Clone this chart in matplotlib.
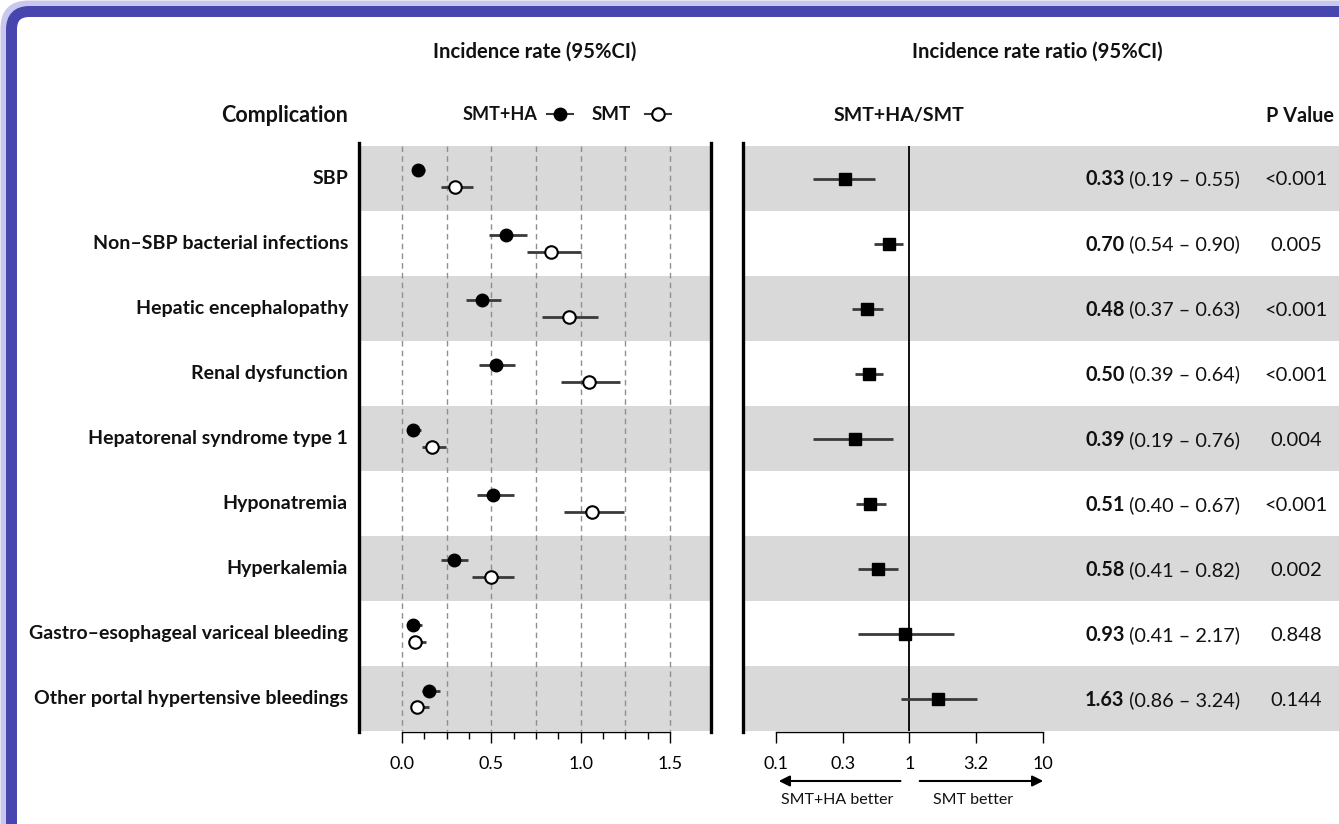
import numpy as np
import matplotlib
matplotlib.use('Agg')
import matplotlib.pyplot as plt
from matplotlib.patches import FancyBboxPatch
from matplotlib.lines import Line2D
from matplotlib.ticker import NullLocator
from matplotlib.transforms import IdentityTransform

plt.rcParams['font.family'] = ['Lato', 'DejaVu Sans']
plt.rcParams['text.color'] = '#111111'


# Data

complications = ['SBP', 'Non–SBP bacterial infections', 'Hepatic encephalopathy',
                 'Renal dysfunction', 'Hepatorenal syndrome type 1', 'Hyponatremia',
                 'Hyperkalemia', 'Gastro–esophageal variceal bleeding',
                 'Other portal hypertensive bleedings']

ha_rate = [0.09, 0.58, 0.45, 0.525, 0.06, 0.51, 0.29, 0.065, 0.15]
ha_low = [0.06, 0.485, 0.36, 0.43, 0.04, 0.42, 0.22, 0.04, 0.11]
ha_high = [0.13, 0.70, 0.555, 0.635, 0.105, 0.625, 0.37, 0.11, 0.215]

smt_rate = [0.30, 0.835, 0.935, 1.045, 0.17, 1.065, 0.50, 0.075, 0.085]
smt_low = [0.22, 0.70, 0.785, 0.89, 0.11, 0.91, 0.39, 0.05, 0.055]
smt_high = [0.40, 1.00, 1.10, 1.22, 0.245, 1.245, 0.625, 0.135, 0.15]

irr = [0.33, 0.70, 0.48, 0.50, 0.39, 0.51, 0.58, 0.93, 1.63]
irr_low = [0.19, 0.54, 0.37, 0.39, 0.19, 0.40, 0.41, 0.41, 0.86]
irr_high = [0.55, 0.90, 0.63, 0.64, 0.76, 0.67, 0.82, 2.17, 3.24]
p_values = ['<0.001', '0.005', '<0.001', '<0.001', '0.004', '<0.001', '0.002', '0.848', '0.144']

rate_ticks = [0.0, 0.5, 1.0, 1.5]
rate_labels = ['0.0', '0.5', '1.0', '1.5']
ratio_ticks = [0.1, 0.316, 1, 3.16, 10]
ratio_labels = ['0.1', '0.3', '1', '3.2', '10']


# Layout helpers (pixels measured from the top-left corner)

W, H = 1339, 824
fig = plt.figure(figsize=(W / 100, H / 100), dpi=100)


def box(x0, y0, x1, y1):
    return [x0 / W, 1 - y1 / H, (x1 - x0) / W, (y1 - y0) / H]


def fpx(x, y):
    return (x / W, 1 - y / H)


rows = np.arange(len(complications))
band = '#d9d9d9'
dark = '#3a3a3a'

ax1 = fig.add_axes(box(359, 143, 711, 732))
ax2 = fig.add_axes(box(743, 143, 1339, 732))

for ax in (ax1, ax2):
    ax.set_ylim(8.5 + 0.5 / 65, -0.5 - 3 / 65)
    ax.set_yticks([])
    ax.set_facecolor('none')
    for i in rows:
        if i % 2 == 0:
            ax.axhspan(i - 0.5, i + 0.5, color=band, lw=0, zorder=0)
    ax.spines['top'].set_visible(False)
    ax.spines['left'].set_linewidth(2.4)
    ax.spines['bottom'].set_linewidth(1.0)
    ax.tick_params(axis='x', which='major', length=8, width=1.0, pad=9, labelsize=13)
    ax.tick_params(axis='x', which='minor', length=5, width=1.0)

# Left panel: incidence rates
ax1.set_xlim(-0.24, 1.73)
ax1.spines['right'].set_linewidth(2.4)
ax1.spines['bottom'].set_bounds(0, 1.5)
ax1.set_xticks(rate_ticks, rate_labels)
ax1.set_xticks(np.arange(0, 1.51, 0.125), minor=True)
ax1.vlines(np.arange(0, 1.51, 0.25), -0.5, 8.5, colors='#8f8f8f', linestyles=(0, (4, 3)), lw=1.0, zorder=1)

off = 0.13
ax1.hlines(rows - off, ha_low, ha_high, color=dark, lw=2, zorder=2)
ax1.plot(ha_rate, rows - off, 'o', ms=9, color='black', zorder=3)
ax1.hlines(rows + off, smt_low, smt_high, color=dark, lw=2, zorder=2)
ax1.plot(smt_rate, rows + off, 'o', ms=9, mfc='white', mec='black', mew=1.5, zorder=3)

for i, name in enumerate(complications):
    ax1.annotate(name, xy=(348, i), xycoords=('figure pixels', 'data'),
                 ha='right', va='center', fontsize=14, fontweight='bold', annotation_clip=False)

# Right panel: incidence rate ratio
ax2.set_xscale('log')
ax2.set_xlim(10 ** -1.2475, 10 ** 3.2225)
ax2.spines['right'].set_visible(False)
ax2.spines['bottom'].set_bounds(0.1, 10)
ax2.set_xticks(ratio_ticks, ratio_labels)
ax2.xaxis.set_minor_locator(NullLocator())
ax2.vlines(1, -0.5, 8.5, colors='black', lw=1.3, zorder=1)
ax2.hlines(rows, irr_low, irr_high, color=dark, lw=2, zorder=2)
ax2.plot(irr, rows, 's', ms=9, color='black', zorder=3)

base = dict(textcoords='offset points', xytext=(0, -5), va='baseline', annotation_clip=False)
for i in rows:
    t = ax2.annotate(f'{irr[i]:.2f}', xy=(1085, i), xycoords=('figure pixels', 'data'),
                     ha='left', fontsize=14.3, fontweight='bold', **base)
    ax2.annotate(f' ({irr_low[i]:.2f} – {irr_high[i]:.2f})', xy=(1, i), xycoords=(t, 'data'),
                 ha='left', fontsize=14.3, **base)
    ax2.annotate(p_values[i], xy=(1296, i), xycoords=('figure pixels', 'data'),
                 ha='center', fontsize=14.5, **base)

# Arrows under the ratio axis
ax2.annotate('', xy=(0.1, 43), xytext=(0.9, 43), xycoords=('data', 'figure pixels'),
             arrowprops=dict(arrowstyle='-|>', color='black', lw=1.5, mutation_scale=16),
             annotation_clip=False)
ax2.annotate('', xy=(10.6, 43), xytext=(1.14, 43), xycoords=('data', 'figure pixels'),
             arrowprops=dict(arrowstyle='-|>', color='black', lw=1.5, mutation_scale=16),
             annotation_clip=False)
ax2.annotate('SMT+HA better', xy=(0.287, 24), xycoords=('data', 'figure pixels'),
             ha='center', va='center', fontsize=11.5, annotation_clip=False)
ax2.annotate('SMT better', xy=(3.0, 24), xycoords=('data', 'figure pixels'),
             ha='center', va='center', fontsize=11.5, annotation_clip=False)

# Headers
hdr = dict(fontweight='bold', va='center')
fig.text(*fpx(535, 52), 'Incidence rate (95%CI)', ha='center', fontsize=14.6, **hdr)
fig.text(*fpx(1037, 52), 'Incidence rate ratio (95%CI)', ha='center', fontsize=14.6, **hdr)
fig.text(*fpx(348, 116), 'Complication', ha='right', fontsize=15.5, **hdr)
fig.text(*fpx(899, 116), 'SMT+HA/SMT', ha='center', fontsize=14, **hdr)
fig.text(*fpx(1334, 116), 'P Value', ha='right', fontsize=14.3, **hdr)
fig.text(*fpx(537, 114), 'SMT+HA', ha='right', fontsize=13, **hdr)
fig.text(*fpx(592, 114), 'SMT', ha='left', fontsize=13.5, **hdr)

(lx0, ly), (lx1, _) = fpx(547, 114), fpx(573, 114)
fig.add_artist(Line2D([lx0, (lx0 + lx1) / 2, lx1], [ly, ly, ly], transform=fig.transFigure,
                      color=dark, lw=1.5, marker='o', ms=9, markevery=[1],
                      mfc='black', mec='black'))
(lx0, ly), (lx1, _) = fpx(645, 114), fpx(671, 114)
fig.add_artist(Line2D([lx0, (lx0 + lx1) / 2, lx1], [ly, ly, ly], transform=fig.transFigure,
                      color=dark, lw=1.5, marker='o', ms=9, markevery=[1],
                      mfc='white', mec='black', mew=1.5))

# Blue frame (top and left edges, cut off at right and bottom); soft glow outside only
glow = FancyBboxPatch((4, -60), W + 100, H - 4 + 60, boxstyle='round,pad=0,rounding_size=24',
                      transform=IdentityTransform(), fill=False, ec='#c8c8ee', lw=5)
frame = FancyBboxPatch((11.5, -60), W + 100, H - 11.5 + 60, boxstyle='round,pad=0,rounding_size=18',
                       transform=IdentityTransform(), fill=False, ec='#4646ae', lw=7.9)
fig.add_artist(glow)
fig.add_artist(frame)

fig.savefig('out.png', dpi=100)
